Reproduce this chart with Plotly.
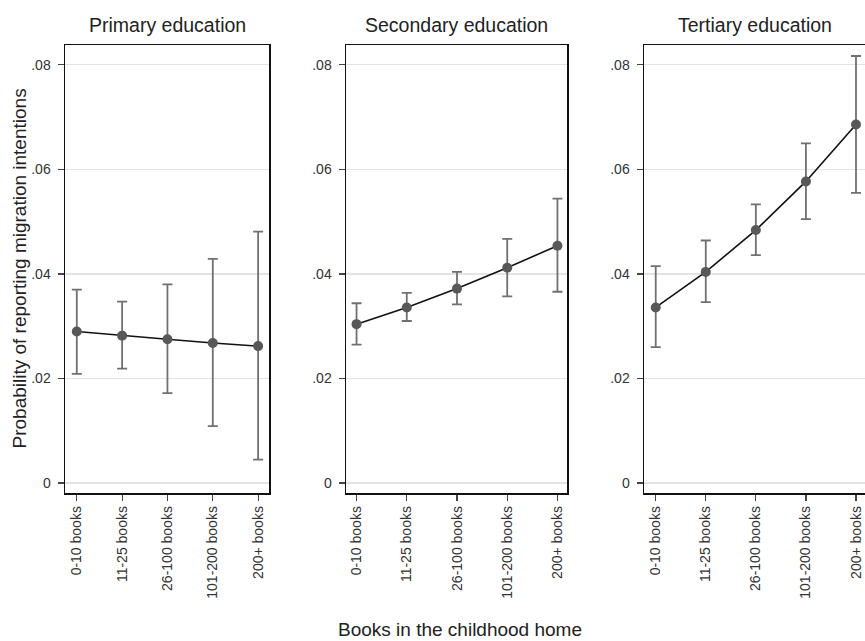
import plotly.graph_objects as go

categories = ["0-10 books", "11-25 books", "26-100 books", "101-200 books", "200+ books"]
panel_titles = ["Primary education", "Secondary education", "Tertiary education"]

primary_est = [0.0290, 0.0282, 0.0275, 0.0268, 0.0262]
primary_lo = [0.0209, 0.0219, 0.0172, 0.0109, 0.0045]
primary_hi = [0.0370, 0.0347, 0.0380, 0.0429, 0.0481]

secondary_est = [0.0304, 0.0336, 0.0372, 0.0412, 0.0454]
secondary_lo = [0.0265, 0.0310, 0.0342, 0.0357, 0.0366]
secondary_hi = [0.0344, 0.0364, 0.0404, 0.0467, 0.0544]

tertiary_est = [0.0336, 0.0404, 0.0484, 0.0577, 0.0686]
tertiary_lo = [0.0260, 0.0346, 0.0436, 0.0505, 0.0555]
tertiary_hi = [0.0415, 0.0464, 0.0533, 0.0650, 0.0817]

y_tickvals = [0, 0.02, 0.04, 0.06, 0.08]
y_ticktext = ["0", ".02", ".04", ".06", ".08"]

W, H = 865, 641
FONT = "Liberation Sans, Arial, sans-serif"

panels = [
    (primary_est, primary_lo, primary_hi),
    (secondary_est, secondary_lo, secondary_hi),
    (tertiary_est, tertiary_lo, tertiary_hi),
]
# pixel extents of each plot box
px_domains = [(65, 269), (346, 567), (644, 865)]
x_ranges = [(-0.26, 4.24), (-0.21, 4.19), (-0.234, 4.18)]

fig = go.Figure()
layout = dict(
    width=W, height=H,
    margin=dict(l=0, r=0, t=45, b=148, pad=0),
    paper_bgcolor="white", plot_bgcolor="white",
    showlegend=False,
    font=dict(family=FONT, color="#222222"),
)

annotations = []
for i, (est, lo, hi) in enumerate(panels):
    n = "" if i == 0 else str(i + 1)
    plus = [h - e for h, e in zip(hi, est)]
    minus = [e - l for e, l in zip(est, lo)]
    fig.add_trace(go.Scatter(
        x=categories, y=est, mode="lines",
        line=dict(color="#111111", width=1.6),
        xaxis="x" + n, yaxis="y" + n, hoverinfo="skip",
    ))
    fig.add_trace(go.Scatter(
        x=categories, y=est, mode="markers",
        marker=dict(color="#585858", size=10, line=dict(width=0)),
        error_y=dict(type="data", symmetric=False, array=plus, arrayminus=minus,
                     color="#707070", thickness=1.8, width=5),
        xaxis="x" + n, yaxis="y" + n,
    ))
    d0, d1 = px_domains[i]
    dom = [d0 / W, min(d1 / W, 1.0)]
    layout["xaxis" + n] = dict(
        domain=dom, anchor="y" + n, type="category",
        range=list(x_ranges[i]),
        showline=True, linecolor="#111111", linewidth=1.5, mirror=True,
        showgrid=False, zeroline=False,
        ticks="outside", ticklen=6, tickwidth=1.2, tickcolor="#444444",
        tickangle=-90, tickfont=dict(size=14, color="#333333", family=FONT),
        automargin=False, fixedrange=True,
    )
    layout["yaxis" + n] = dict(
        domain=[0, 1], anchor="x" + n,
        range=[-0.0019, 0.0838],
        tickvals=y_tickvals, ticktext=y_ticktext,
        showline=True, linecolor="#111111", linewidth=1.5, mirror=(i < 2),
        showgrid=True, gridcolor="#e3e3e3", gridwidth=1.2, zeroline=False,
        ticks="outside", ticklen=6, tickwidth=1.2, tickcolor="#444444",
        ticklabelstandoff=4,
        tickfont=dict(size=14, color="#333333", family=FONT),
        automargin=False, fixedrange=True,
    )
    annotations.append(dict(
        text=panel_titles[i], x=(d0 + min(d1, 866)) / 2 / W, y=1 + 20 / 448,
        xref="paper", yref="paper", xanchor="center", yanchor="middle",
        showarrow=False, font=dict(size=19.5, color="#222222", family=FONT),
    ))

annotations.append(dict(
    text="Books in the childhood home", x=460 / W, y=(493 - 629) / 448,
    xref="paper", yref="paper", xanchor="center", yanchor="middle",
    showarrow=False, font=dict(size=19, color="#222222", family=FONT),
))
annotations.append(dict(
    text="Probability of reporting migration intentions", x=18.5 / W, y=0.5,
    xref="paper", yref="paper", xanchor="center", yanchor="middle",
    textangle=-90, showarrow=False, font=dict(size=19, color="#222222", family=FONT),
))
layout["annotations"] = annotations

fig.update_layout(**layout)
fig.write_html(
    "out.html",
    config={"displayModeBar": False, "staticPlot": True},
    post_script="document.body.style.margin='0';document.body.style.overflow='hidden';",
)
